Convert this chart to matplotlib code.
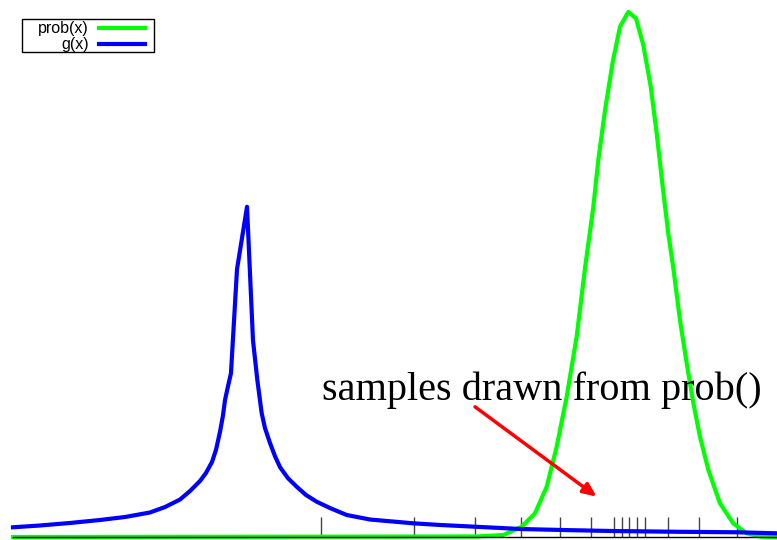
import numpy as np
import matplotlib.pyplot as plt
from matplotlib.patches import Rectangle

# g(x): sharp proposal peak
g_x = [-3.000, -2.647, -2.254, -1.861, -1.534, -1.207, -1.010, -0.814, -0.683,
       -0.552, -0.474, -0.395, -0.343, -0.291, -0.251, -0.225, -0.186, -0.147,
       -0.068, 0.063, 0.141, 0.198, 0.255, 0.298, 0.364, 0.429, 0.495, 0.599,
       0.713, 0.835, 0.975, 1.149, 1.368, 1.673, 2.236, 2.589, 3.047, 3.649,
       4.291, 4.853, 5.730, 6.476, 7.000]
g_y = [0.0185, 0.0219, 0.0267, 0.0324, 0.0381, 0.0467, 0.0571, 0.0714, 0.0876,
       0.1067, 0.122, 0.143, 0.166, 0.200, 0.232, 0.261, 0.287, 0.312,
       0.510, 0.629, 0.375, 0.299, 0.236, 0.2076, 0.179, 0.154, 0.133, 0.112,
       0.0958, 0.080, 0.0672, 0.0552, 0.0419, 0.0333, 0.0261, 0.0229, 0.0196,
       0.0152, 0.0130, 0.0114, 0.0099, 0.0090, 0.0070]

# prob(x): target distribution
p_x = [-3.000, 3.069, 3.418, 3.658, 3.832, 3.986, 4.116, 4.247, 4.378, 4.487,
       4.596, 4.661, 4.749, 4.850, 4.945, 5.054, 5.154, 5.250, 5.347, 5.425,
       5.504, 5.577, 5.643, 5.730, 5.818, 5.905, 5.992, 6.101, 6.254, 6.428,
       6.603, 6.777, 7.000]
p_y = [0.0, 0.001, 0.0038, 0.0196, 0.0451, 0.0958, 0.172, 0.267, 0.382, 0.512,
       0.629, 0.718, 0.813, 0.905, 0.972, 1.000, 0.988, 0.937, 0.858, 0.769,
       0.667, 0.578, 0.512, 0.413, 0.331, 0.255, 0.191, 0.128, 0.064, 0.026,
       0.007, 0.001, 0.0]

# samples drawn from prob()
samples = [1.031, 2.249, 3.047, 3.649, 4.160, 4.565, 4.866, 4.971, 5.063,
           5.168, 5.272, 5.573, 5.979, 6.476]

fig = plt.figure(figsize=(7.77, 5.40), dpi=100)
ax = fig.add_axes([13 / 777, 3 / 540, 764 / 777, 537 / 540])
ax.set_xlim(-3, 7)
ax.set_ylim(0, 537 / 525)

ax.vlines(samples, 0, 0.038, colors="#444444", lw=1, zorder=1)
ax.plot(p_x, p_y, color="#00ff00", lw=3, label="prob(x)", clip_on=False, zorder=2)
ax.plot(g_x, g_y, color="#0000ff", lw=3, label="g(x)", clip_on=False, zorder=3)

ax.text(1.045, 0.261, "samples drawn from prob()", fontsize=29,
        family="Liberation Serif", va="baseline", ha="left")
ax.annotate("", xy=(4.640, 0.0768), xytext=(3.047, 0.248),
            arrowprops=dict(arrowstyle="-|>,head_length=0.8,head_width=0.35",
                            color="red", lw=2.5, shrinkA=0, shrinkB=0))

for s in ["top", "left", "right"]:
    ax.spines[s].set_visible(False)
ax.spines["bottom"].set_linewidth(1)
ax.spines["bottom"].set_zorder(5)
ax.set_xticks([])
ax.set_yticks([])

# key: right-aligned labels, frame drawn separately
leg = ax.legend(loc="upper right", bbox_to_anchor=(145 / 777, 1 - 21.5 / 540),
                bbox_transform=fig.transFigure, markerfirst=False,
                frameon=False, prop={"family": "Liberation Sans", "size": 11.5},
                handlelength=2.88, handletextpad=0.63, borderpad=0,
                labelspacing=0.05, borderaxespad=0)
fig.add_artist(Rectangle((22 / 777, 1 - 52 / 540), 132 / 777, 33 / 540,
                         transform=fig.transFigure, fill=False,
                         edgecolor="black", lw=1))

plt.savefig("out.png", dpi=100)
